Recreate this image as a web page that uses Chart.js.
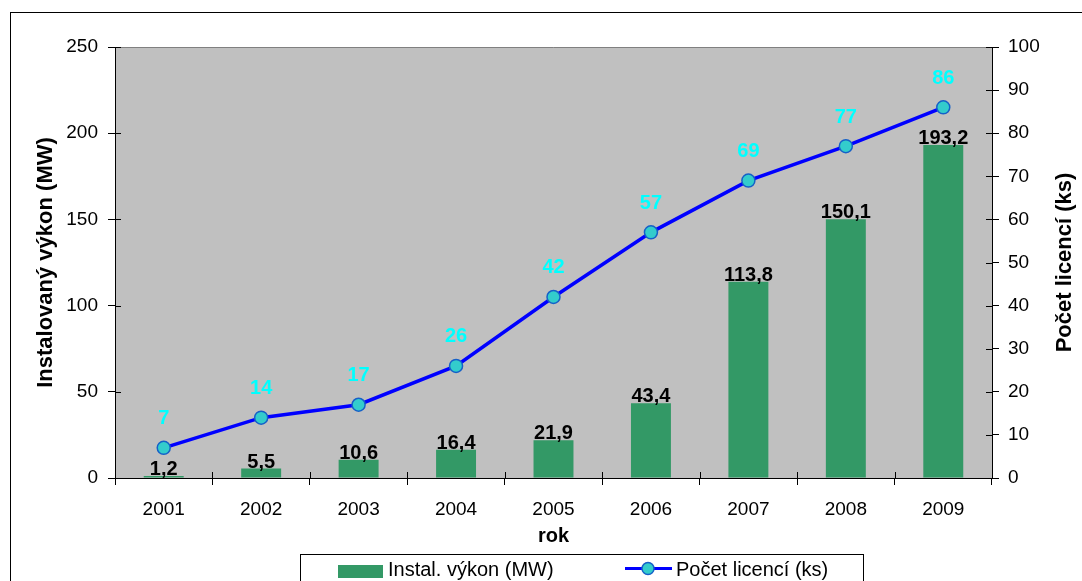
<!DOCTYPE html>
<html lang="cs">
<head>
<meta charset="utf-8">
<title>Instalovaný výkon a počet licencí</title>
<script src="https://cdn.jsdelivr.net/npm/chart.js@4/dist/chart.umd.min.js"></script>
<style>
    html, body { margin: 0; padding: 0; background: #ffffff; }
    #graf { display: block; }
</style>
</head>
<body>
<canvas id="graf" width="1082" height="581"></canvas>
<script>
const roky = ['2001', '2002', '2003', '2004', '2005', '2006', '2007', '2008', '2009'];

const vykonMW = [1.2, 5.5, 10.6, 16.4, 21.9, 43.4, 113.8, 150.1, 193.2];

const pocetLicenci = [7, 14, 17, 26, 42, 57, 69, 77, 86];

const osaVykon = [0, 50, 100, 150, 200, 250];
const osaLicence = [0, 10, 20, 30, 40, 50, 60, 70, 80, 90, 100];

const pismo = '"Liberation Sans", Arial, sans-serif';

function cislo(v) {
    return String(v).replace('.', ',');
}

// sedé pozadí grafu a rámeček kolem celé plochy
const pozadi = {
    id: 'pozadi',
    beforeDraw(chart) {
        const {ctx, chartArea} = chart;
        ctx.save();
        ctx.fillStyle = '#C0C0C0';
        ctx.fillRect(chartArea.left, chartArea.top, chartArea.right - chartArea.left, chartArea.bottom - chartArea.top);
        ctx.strokeStyle = '#000000';
        ctx.lineWidth = 1;
        ctx.strokeRect(10.5, 12.5, 1200, 700);
        ctx.restore();
    }
};

// hodnoty nad sloupci a nad body čáry
const popisky = {
    id: 'popisky',
    afterDatasetsDraw(chart) {
        const ctx = chart.ctx;
        ctx.save();
        ctx.textAlign = 'center';
        chart.data.datasets.forEach((ds, i) => {
            const meta = chart.getDatasetMeta(i);
            meta.data.forEach((el, j) => {
                if (ds.type === 'line') {
                    ctx.fillStyle = '#00FFFF';
                    ctx.font = 'bold 20px ' + pismo;
                    ctx.textBaseline = 'middle';
                    ctx.fillText(cislo(ds.data[j]), el.x, el.y - 29);
                } else {
                    ctx.fillStyle = '#000000';
                    ctx.font = 'bold 20px ' + pismo;
                    ctx.textBaseline = 'alphabetic';
                    ctx.fillText(cislo(ds.data[j]), el.x, el.y - 1);
                }
            });
        });
        ctx.restore();
    }
};

// vnitřní části značek na osách, pravý popisek osy a legenda
const doplnky = {
    id: 'doplnky',
    afterDraw(chart) {
        const {ctx, chartArea, scales} = chart;
        ctx.save();

        ctx.strokeStyle = '#808080';
        ctx.lineWidth = 1;
        ctx.beginPath();
        ctx.moveTo(chartArea.left, chartArea.top + 0.5);
        ctx.lineTo(chartArea.right, chartArea.top + 0.5);
        ctx.stroke();

        ctx.strokeStyle = '#000000';
        ctx.beginPath();
        osaVykon.forEach(v => {
            const y = Math.round(scales.y.getPixelForValue(v)) + 0.5;
            ctx.moveTo(chartArea.left, y);
            ctx.lineTo(chartArea.left + 6, y);
        });
        osaLicence.forEach(v => {
            const y = Math.round(scales.y1.getPixelForValue(v)) + 0.5;
            ctx.moveTo(chartArea.right - 6, y);
            ctx.lineTo(chartArea.right, y);
        });
        const krok = (chartArea.right - chartArea.left) / roky.length;
        for (let i = 1; i < roky.length; i++) {
            const x = Math.round(chartArea.left + i * krok) + 0.5;
            ctx.moveTo(x, chartArea.bottom - 6);
            ctx.lineTo(x, chartArea.bottom);
        }
        ctx.stroke();

        ctx.fillStyle = '#000000';
        ctx.font = 'bold 22px ' + pismo;
        ctx.textAlign = 'center';
        ctx.textBaseline = 'middle';
        ctx.translate(1065, (chartArea.top + chartArea.bottom) / 2);
        ctx.rotate(-Math.PI / 2);
        ctx.fillText('Počet licencí (ks)', 0, 0);
        ctx.setTransform(1, 0, 0, 1, 0, 0);

        const sloupce = chart.data.datasets[1];
        const cara = chart.data.datasets[0];

        ctx.strokeStyle = '#000000';
        ctx.lineWidth = 1;
        ctx.strokeRect(300.5, 554.5, 563, 40);

        ctx.fillStyle = sloupce.backgroundColor;
        ctx.fillRect(338, 565, 45, 13);
        ctx.fillStyle = '#000000';
        ctx.font = '20px ' + pismo;
        ctx.textAlign = 'left';
        ctx.fillText(sloupce.label, 388, 570);

        ctx.strokeStyle = cara.borderColor;
        ctx.lineWidth = 3;
        ctx.beginPath();
        ctx.moveTo(625, 568.5);
        ctx.lineTo(672, 568.5);
        ctx.stroke();
        ctx.beginPath();
        ctx.arc(648, 568.5, 6, 0, Math.PI * 2);
        ctx.fillStyle = cara.pointBackgroundColor;
        ctx.fill();
        ctx.lineWidth = 1.5;
        ctx.strokeStyle = cara.pointBorderColor;
        ctx.stroke();
        ctx.fillStyle = '#000000';
        ctx.fillText(cara.label, 676, 570);

        ctx.restore();
    }
};

const data = {
    labels: roky,
    datasets: [{
            type: 'line',
            label: 'Počet licencí (ks)',
            data: pocetLicenci,
            yAxisID: 'y1',
            borderColor: '#0000FF',
            borderWidth: 3.5,
            pointRadius: 6.5,
            pointHoverRadius: 6.5,
            pointBackgroundColor: '#33CCCC',
            pointBorderColor: '#1560C8',
            pointBorderWidth: 1.5,
            tension: 0,
            order: 0
        },
        {
            type: 'bar',
            label: 'Instal. výkon (MW)',
            data: vykonMW,
            yAxisID: 'y',
            backgroundColor: '#339966',
            barPercentage: 0.41,
            categoryPercentage: 1,
            order: 1
        }
    ]
};

const config = {
    type: 'bar',
    data: data,
    options: {
        responsive: false,
        animation: false,
        layout: {
            padding: { top: 47, left: 0, right: 0, bottom: 0 }
        },
        plugins: {
            legend: { display: false },
            tooltip: { enabled: false }
        },
        scales: {
            x: {
                offset: true,
                grid: { offset: true, drawOnChartArea: false, tickLength: 7, color: '#000000' },
                border: { color: '#000000' },
                ticks: { color: '#000000', font: { family: pismo, size: 19 }, padding: 13 },
                title: {
                    display: true,
                    text: 'rok',
                    color: '#000000',
                    font: { family: pismo, size: 20, weight: 'bold' },
                    padding: { top: 0, bottom: 33 }
                },
                afterFit(s) { s.height = 103; }
            },
            y: {
                position: 'left',
                min: osaVykon[0],
                max: osaVykon[osaVykon.length - 1],
                afterBuildTicks(s) { s.ticks = osaVykon.map(v => ({ value: v })); },
                grid: { drawOnChartArea: false, tickLength: 7, color: '#000000' },
                border: { color: '#000000' },
                ticks: { color: '#000000', font: { family: pismo, size: 19 }, padding: 10 },
                title: {
                    display: true,
                    text: 'Instalovaný výkon (MW)',
                    color: '#000000',
                    font: { family: pismo, size: 22, weight: 'bold' },
                    padding: { top: 33, bottom: 0 }
                },
                afterFit(s) { s.width = 115; }
            },
            y1: {
                position: 'right',
                min: osaLicence[0],
                max: osaLicence[osaLicence.length - 1],
                afterBuildTicks(s) { s.ticks = osaLicence.map(v => ({ value: v })); },
                grid: { drawOnChartArea: false, tickLength: 7, color: '#000000' },
                border: { color: '#000000' },
                ticks: { color: '#000000', font: { family: pismo, size: 19 }, padding: 9 },
                afterFit(s) { s.width = 90; }
            }
        }
    },
    plugins: [pozadi, popisky, doplnky]
};

const graf = new Chart(document.getElementById('graf'), config);
</script>
</body>
</html>
